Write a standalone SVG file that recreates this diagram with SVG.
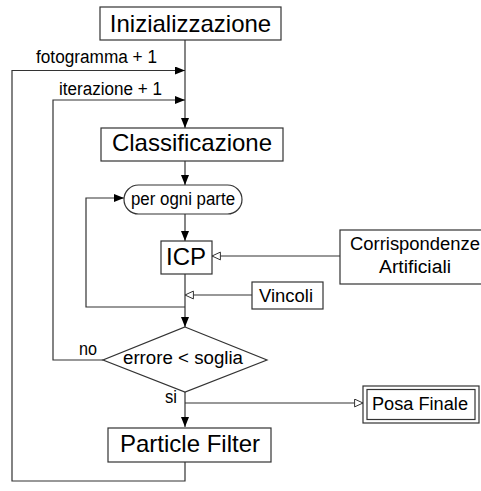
<svg xmlns="http://www.w3.org/2000/svg" width="481" height="491" viewBox="0 0 481 491">
<style>
.box{fill:#fff;stroke:#333;stroke-width:1.2}
.big{font-family:"Liberation Sans",Arial,sans-serif;font-size:24px;fill:#000;text-anchor:middle}
.sm{font-family:"Liberation Sans",Arial,sans-serif;font-size:18px;fill:#000}
.mid{text-anchor:middle}
.c{fill:none;stroke:#333;stroke-width:1.2}
.f{marker-end:url(#fa)}
.o{marker-end:url(#oa)}
</style>
<defs>
<marker id="fa" markerUnits="userSpaceOnUse" markerWidth="11" markerHeight="9" refX="10" refY="4" orient="auto">
<path d="M0,0 L10,4 L0,8 z" fill="#000"/>
</marker>
<marker id="oa" markerUnits="userSpaceOnUse" markerWidth="11" markerHeight="11" refX="9" refY="4.5" orient="auto">
<path d="M0.6,0.6 L9,4.5 L0.6,8.4 z" fill="#fff" stroke="#333" stroke-width="1"/>
</marker>
</defs>
<rect width="481" height="491" fill="#fff"/>
<g id="connectors">
<path class="c f" d="M185,40 V128"/>
<path class="c f" d="M185,462 V481 H12 V70.5 H185"/>
<path class="c f" d="M103,360 H53 V100 H185"/>
<path class="c f" d="M185,161 V185"/>
<path class="c f" d="M185,214 V241"/>
<path class="c f" d="M185,274 V327"/>
<path class="c f" d="M185,307 H86 V198 H124"/>
<path class="c o" d="M340,256 H212"/>
<path class="c o" d="M252,295 H185"/>
<path class="c f" d="M185,392 V427"/>
<path class="c o" d="M185,403 H363"/>
<text class="sm" x="36" y="63" textLength="121" lengthAdjust="spacingAndGlyphs">fotogramma + 1</text>
<text class="sm" x="59" y="95" textLength="103" lengthAdjust="spacingAndGlyphs">iterazione + 1</text>
<text class="sm" x="79" y="355" textLength="18" lengthAdjust="spacingAndGlyphs">no</text>
<text class="sm" x="165" y="403" textLength="12" lengthAdjust="spacingAndGlyphs">si</text>
</g>
<g id="inizializzazione">
<rect class="box" x="100" y="7" width="181" height="33"/>
<text class="big" x="190.5" y="32">Inizializzazione</text>
</g>
<g id="classificazione">
<rect class="box" x="101" y="128" width="182" height="33"/>
<text class="big" x="192" y="151">Classificazione</text>
</g>
<g id="per-ogni-parte">
<rect class="box" x="124" y="185" width="118" height="29" rx="14.5"/>
<text class="sm mid" x="183" y="205" textLength="104" lengthAdjust="spacingAndGlyphs">per ogni parte</text>
</g>
<g id="icp">
<rect class="box" x="161" y="241" width="51" height="33"/>
<text class="big" x="186" y="265">ICP</text>
</g>
<g id="corrispondenze">
<rect class="box" x="340" y="230" width="150" height="54"/>
<text class="sm mid" x="415" y="250" textLength="130" lengthAdjust="spacingAndGlyphs">Corrispondenze</text>
<text class="sm mid" x="415" y="273" textLength="72" lengthAdjust="spacingAndGlyphs">Artificiali</text>
</g>
<g id="vincoli">
<rect class="box" x="252" y="282" width="71" height="27"/>
<text class="sm mid" x="286" y="302" textLength="54" lengthAdjust="spacingAndGlyphs">Vincoli</text>
</g>
<g id="errore">
<path class="box" d="M185,327 L267,360 L185,392 L103,360 z"/>
<text class="sm mid" x="183" y="364" textLength="120" lengthAdjust="spacingAndGlyphs">errore &lt; soglia</text>
</g>
<g id="posa-finale">
<rect class="box" x="363" y="386" width="116" height="37"/>
<rect class="box" x="367" y="389.5" width="108" height="30"/>
<text class="sm mid" x="420" y="410" textLength="96" lengthAdjust="spacingAndGlyphs">Posa Finale</text>
</g>
<g id="particle-filter">
<rect class="box" x="108" y="428" width="163" height="34"/>
<text class="big" x="190" y="452">Particle Filter</text>
</g>
</svg>
